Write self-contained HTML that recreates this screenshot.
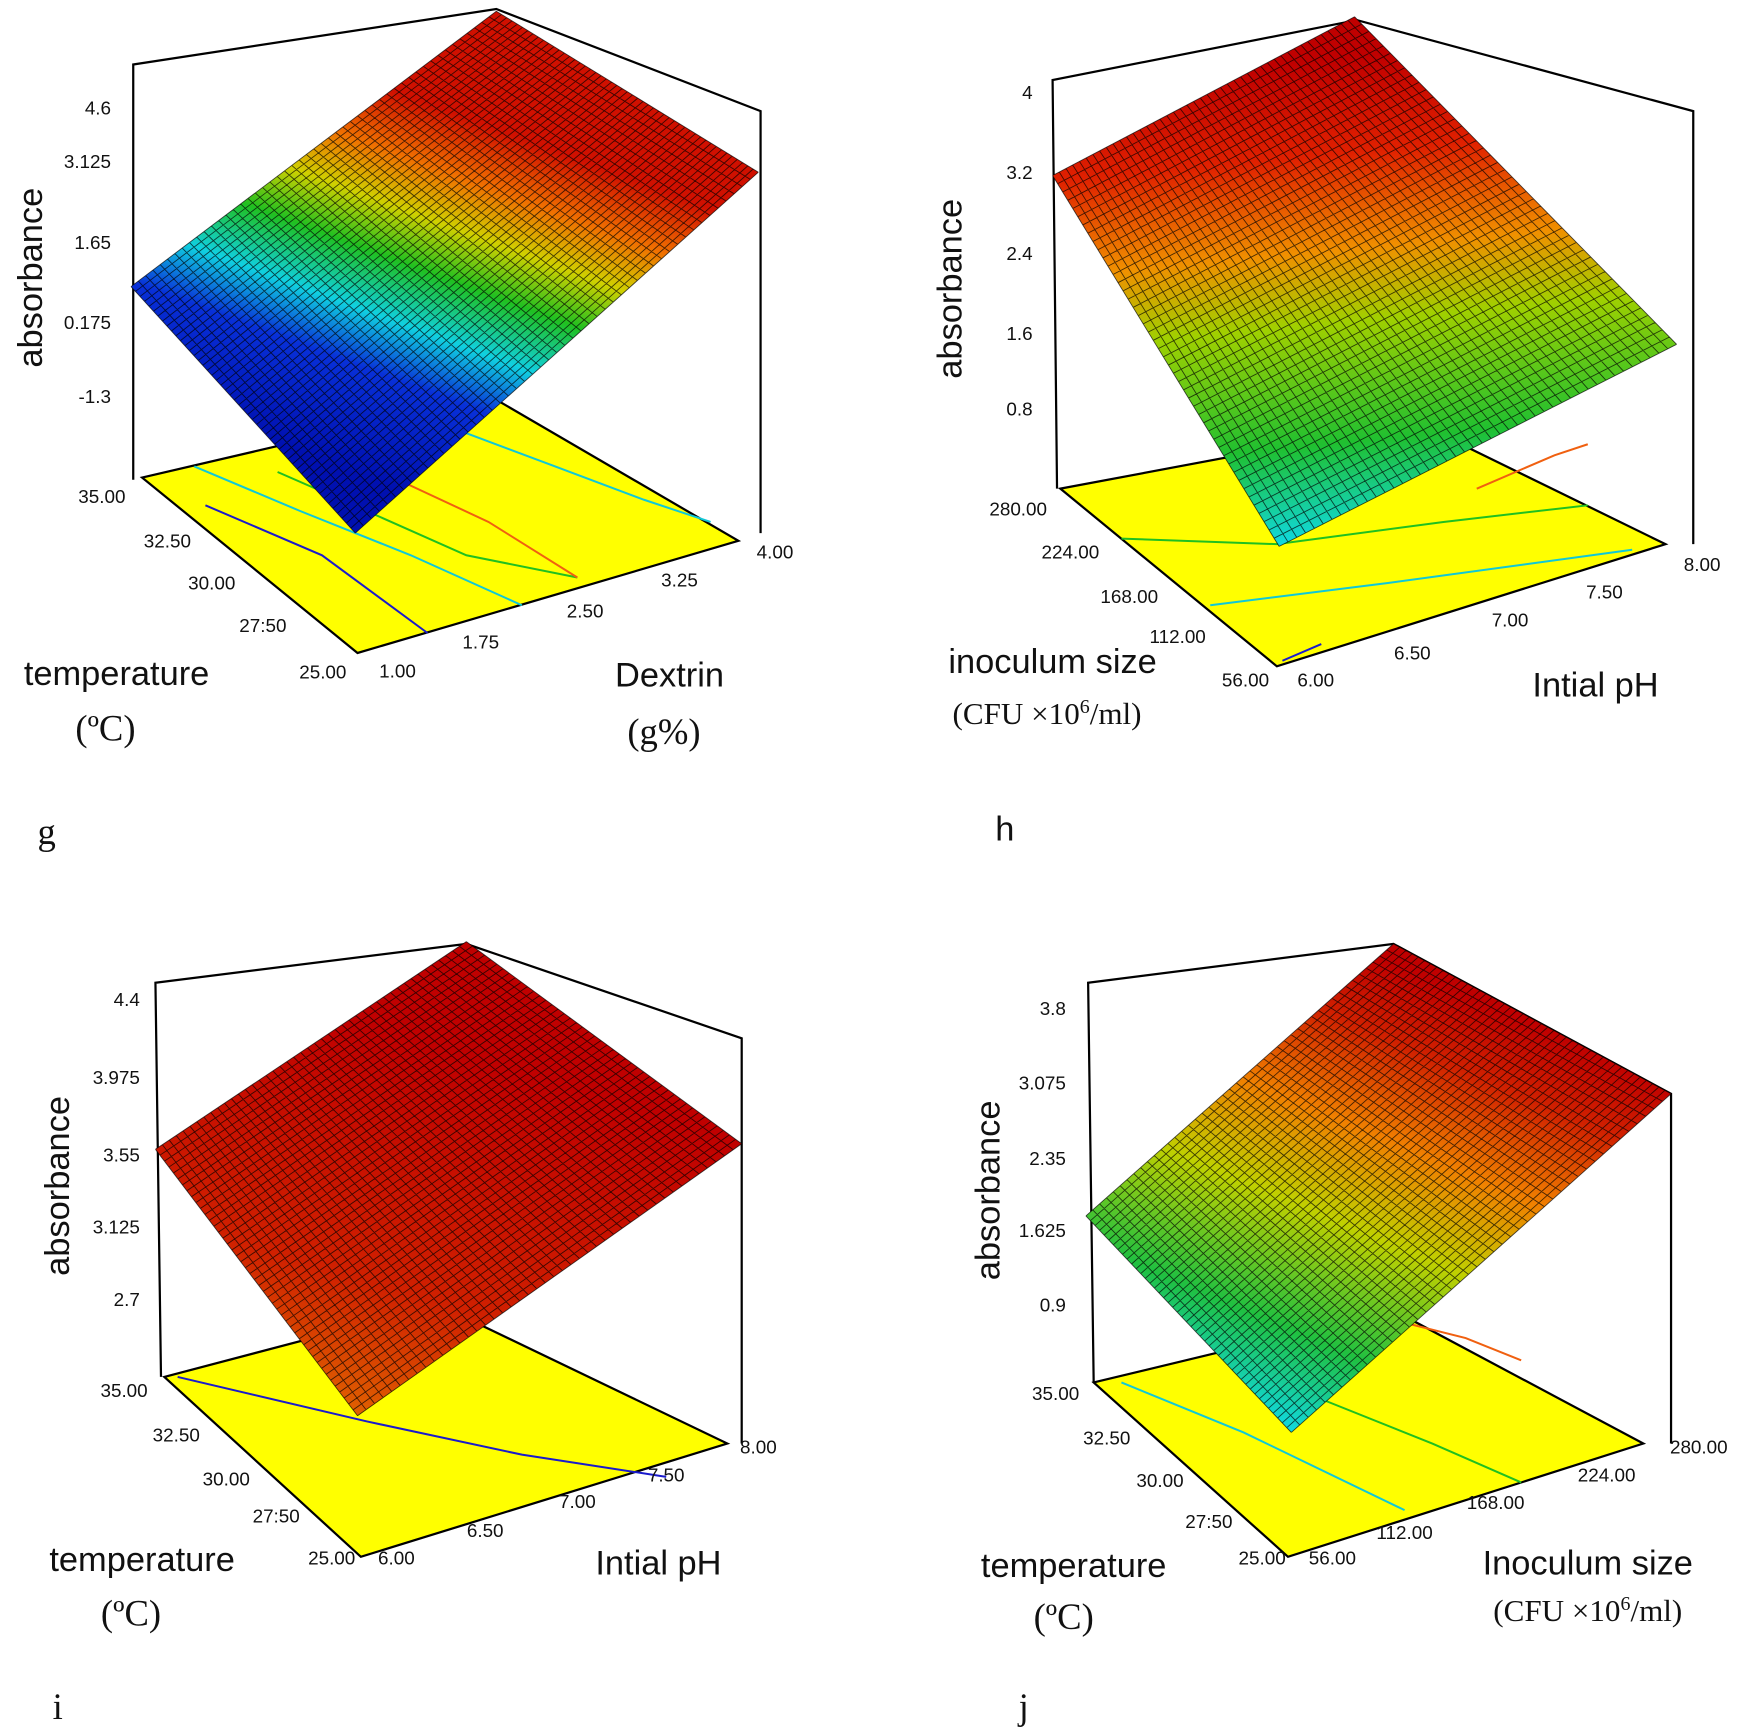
<!DOCTYPE html>
<html><head><meta charset="utf-8"><style>
html,body{margin:0;padding:0;background:#fff}
svg{display:block}
text{font-family:"Liberation Sans",sans-serif;fill:#111}
.t{font-size:17px}
.lab{font-size:31px}
.ser text{font-family:"Liberation Serif",serif;font-size:33px}
.ser text.sans{font-family:"Liberation Sans",sans-serif}
</style></head><body>
<svg id="s" width="1741" height="1729" viewBox="0 0 1568 1557" xmlns="http://www.w3.org/2000/svg">
<defs>
<linearGradient id="gg" gradientUnits="userSpaceOnUse" x1="300" y1="420" x2="430" y2="70">
<stop offset="0" stop-color="#0010b0"/><stop offset="0.25" stop-color="#0830d8"/><stop offset="0.38" stop-color="#10d0e0"/><stop offset="0.52" stop-color="#20c020"/><stop offset="0.64" stop-color="#d0d000"/><stop offset="0.76" stop-color="#f07000"/><stop offset="0.9" stop-color="#d01000"/></linearGradient>
<linearGradient id="gh" gradientUnits="userSpaceOnUse" x1="1160" y1="490" x2="1120" y2="60">
<stop offset="0" stop-color="#10d8e0"/><stop offset="0.2" stop-color="#20c030"/><stop offset="0.45" stop-color="#a0d000"/><stop offset="0.6" stop-color="#f09000"/><stop offset="0.8" stop-color="#e02000"/><stop offset="1" stop-color="#c00000"/></linearGradient>
<linearGradient id="gi" gradientUnits="userSpaceOnUse" x1="322" y1="1275" x2="420" y2="950">
<stop offset="0" stop-color="#e06000"/><stop offset="0.35" stop-color="#d02000"/><stop offset="1" stop-color="#c00000"/></linearGradient>
<linearGradient id="gj" gradientUnits="userSpaceOnUse" x1="1163" y1="1290" x2="1330" y2="900">
<stop offset="0" stop-color="#10d8e0"/><stop offset="0.2" stop-color="#20c040"/><stop offset="0.45" stop-color="#c0d000"/><stop offset="0.65" stop-color="#f08000"/><stop offset="0.85" stop-color="#d02000"/><stop offset="1" stop-color="#c00000"/></linearGradient>
</defs>
<g fill="none" stroke="#000" stroke-width="2">
<polyline points="120,432 120,58 447,8 685,100 685,480"/>
<line x1="442" y1="357" x2="442" y2="320"/>
<polyline points="952,440 948,72 1222,18 1525,100 1525,490"/>
<polyline points="145,1240 140,885 420,850 668,935 668,1300"/>
<polyline points="985,1245 980,885 1255,850 1505,985 1505,1300"/>
</g>
<g stroke="#000" stroke-width="2" fill="#ffff00">
<polygon points="128,430 442,357 665,487 322,588"/>
<polygon points="955,440 1275,380 1500,490 1150,600"/>
<polygon points="148,1240 395,1175 655,1300 325,1402"/>
<polygon points="985,1245 1255,1180 1480,1300 1160,1402"/>
</g>
<g fill="none" stroke-width="1.8">
<polyline stroke="#1a1acc" points="185,455 290,500 385,570"/>
<polyline stroke="#10c8d8" points="175,420 270,460 370,500 470,545"/>
<polyline stroke="#20c020" points="250,425 330,460 420,500 520,520"/>
<polyline stroke="#f06010" points="365,435 440,470 520,520"/>
<polyline stroke="#10c8d8" points="420,390 500,420 580,450 640,470"/>
<polyline stroke="#f06010" points="1330,440 1400,410 1430,400"/>
<polyline stroke="#20c020" points="1010,485 1150,490 1300,470 1430,455"/>
<polyline stroke="#10c8d8" points="1090,545 1250,525 1470,495"/>
<polyline stroke="#1a1acc" points="1155,595 1190,580"/>
<polyline stroke="#1a1acc" points="160,1240 330,1280 470,1310 600,1330"/>
<polyline stroke="#10c8d8" points="1010,1245 1120,1290 1265,1360"/>
<polyline stroke="#20c020" points="1190,1260 1290,1300 1370,1335"/>
<polyline stroke="#f06010" points="1260,1190 1320,1205 1370,1225"/>
</g>
<polygon points="320,480 683,155 447,10 118,258" fill="url(#gg)"/>
<polygon points="1152,492 1510,310 1220,15 948,158" fill="url(#gh)"/>
<polygon points="322,1275 668,1030 420,848 140,1035" fill="url(#gi)"/>
<polygon points="1163,1290 1505,985 1255,850 978,1095" fill="url(#gj)"/>
<g id="mesh" stroke="#000" stroke-width="0.8" stroke-opacity="0.7" fill="none"></g>
<g class="t" text-anchor="end">
<text x="100" y="103">4.6</text><text x="100" y="151">3.125</text><text x="100" y="224">1.65</text><text x="100" y="296">0.175</text><text x="100" y="363">-1.3</text>
<text x="113" y="453">35.00</text><text x="172" y="493">32.50</text><text x="212" y="531">30.00</text><text x="258" y="569">27:50</text><text x="312" y="611">25.00</text>
<text x="930" y="89">4</text><text x="930" y="161">3.2</text><text x="930" y="234">2.4</text><text x="930" y="306">1.6</text><text x="930" y="374">0.8</text>
<text x="943" y="464">280.00</text><text x="990" y="503">224.00</text><text x="1043" y="543">168.00</text><text x="1086" y="579">112.00</text><text x="1143" y="618">56.00</text>
<text x="126" y="906">4.4</text><text x="126" y="976">3.975</text><text x="126" y="1046">3.55</text><text x="126" y="1111">3.125</text><text x="126" y="1176">2.7</text>
<text x="133" y="1258">35.00</text><text x="180" y="1298">32.50</text><text x="225" y="1338">30.00</text><text x="270" y="1371">27:50</text><text x="320" y="1409">25.00</text>
<text x="960" y="914">3.8</text><text x="960" y="981">3.075</text><text x="960" y="1049">2.35</text><text x="960" y="1114">1.625</text><text x="960" y="1181">0.9</text>
<text x="972" y="1261">35.00</text><text x="1018" y="1301">32.50</text><text x="1066" y="1339">30.00</text><text x="1110" y="1376">27:50</text><text x="1158" y="1409">25.00</text>
</g>
<g class="t" text-anchor="middle">
<text x="358" y="610">1.00</text><text x="433" y="584">1.75</text><text x="527" y="556">2.50</text><text x="612" y="528">3.25</text><text x="698" y="503">4.00</text>
<text x="1185" y="618">6.00</text><text x="1272" y="594">6.50</text><text x="1360" y="564">7.00</text><text x="1445" y="539">7.50</text><text x="1533" y="514">8.00</text>
<text x="357" y="1409">6.00</text><text x="437" y="1384">6.50</text><text x="520" y="1358">7.00</text><text x="600" y="1334">7.50</text><text x="683" y="1309">8.00</text>
<text x="1200" y="1409">56.00</text><text x="1265" y="1386">112.00</text><text x="1347" y="1359">168.00</text><text x="1447" y="1334">224.00</text><text x="1530" y="1309">280.00</text>
</g>
<g class="lab" text-anchor="middle">
<text transform="translate(38,250) rotate(-90)">absorbance</text>
<text transform="translate(866,260) rotate(-90)">absorbance</text>
<text transform="translate(62,1068) rotate(-90)">absorbance</text>
<text transform="translate(900,1072) rotate(-90)">absorbance</text>
<text x="105" y="617">temperature</text>
<text x="603" y="618">Dextrin</text>
<text x="948" y="606">inoculum size</text>
<text x="1437" y="627">Intial pH</text>
<text x="128" y="1415">temperature</text>
<text x="593" y="1418">Intial pH</text>
<text x="967" y="1420">temperature</text>
<text x="1430" y="1418">Inoculum size</text>
</g>
<g class="ser" text-anchor="middle">
<text x="95" y="667">(ºC)</text>
<text x="598" y="670">(g%)</text>
<text x="943" y="652" style="font-size:28px">(CFU ×10<tspan dy="-10" style="font-size:18px">6</tspan><tspan dy="10">/ml)</tspan></text>
<text x="118" y="1464">(ºC)</text>
<text x="958" y="1467">(ºC)</text>
<text x="1430" y="1460" style="font-size:28px">(CFU ×10<tspan dy="-10" style="font-size:18px">6</tspan><tspan dy="10">/ml)</tspan></text>
<text x="42" y="760">g</text>
<text class="sans" x="905" y="757" style="font-size:31px">h</text>
<text x="52" y="1548">i</text>
<text x="922" y="1548">j</text>
</g>
<script>
(function(){
var m=document.getElementById('mesh');var d='';
function P(c,u,v){return [ (1-u)*(1-v)*c[0][0]+u*(1-v)*c[1][0]+u*v*c[2][0]+(1-u)*v*c[3][0],
 (1-u)*(1-v)*c[0][1]+u*(1-v)*c[1][1]+u*v*c[2][1]+(1-u)*v*c[3][1]];}
function mesh(c,n){for(var i=0;i<=n;i++){var t=i/n;var a=P(c,t,0),b=P(c,t,1),e=P(c,0,t),f=P(c,1,t);
 d+='M'+a[0].toFixed(1)+' '+a[1].toFixed(1)+'L'+b[0].toFixed(1)+' '+b[1].toFixed(1);
 d+='M'+e[0].toFixed(1)+' '+e[1].toFixed(1)+'L'+f[0].toFixed(1)+' '+f[1].toFixed(1);}}
mesh([[320,480],[683,155],[447,10],[118,258]],50);
mesh([[1152,492],[1510,310],[1220,15],[948,158]],45);
mesh([[322,1275],[668,1030],[420,848],[140,1035]],45);
mesh([[1163,1290],[1505,985],[1255,850],[978,1095]],45);
var p=document.createElementNS('http://www.w3.org/2000/svg','path');p.setAttribute('d',d);m.appendChild(p);
})();
</script>
</svg>
</body></html>
